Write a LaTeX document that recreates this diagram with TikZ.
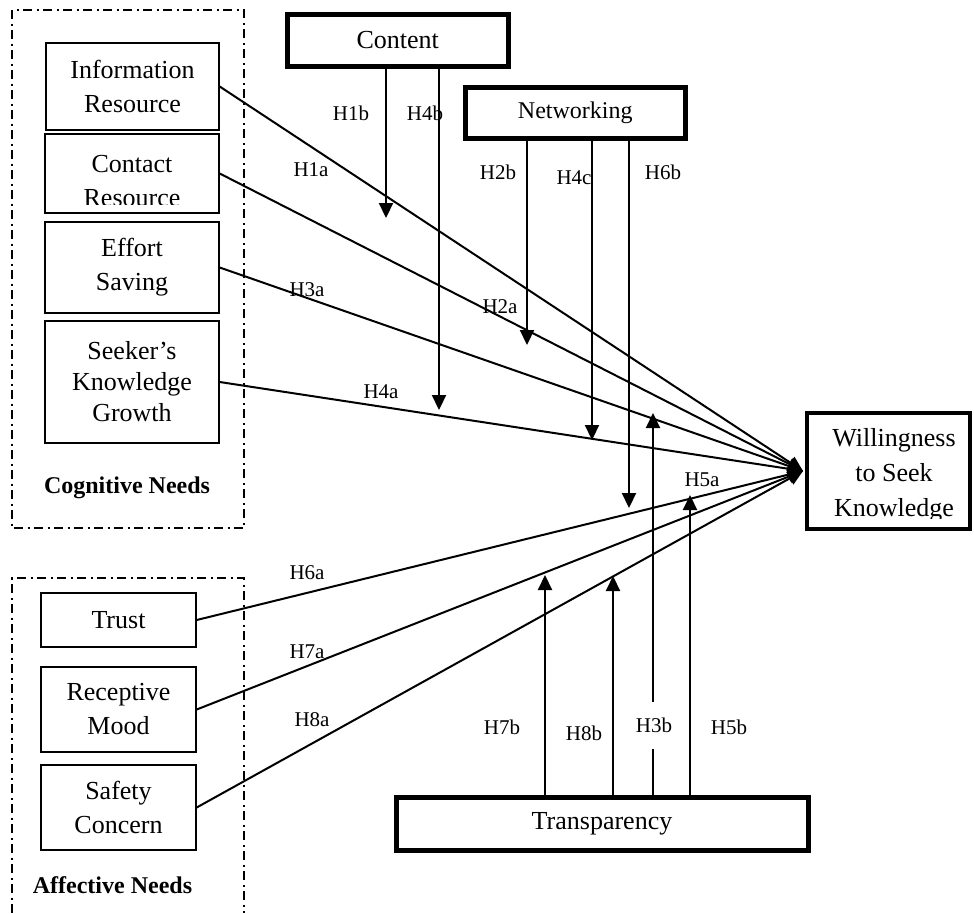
\documentclass[tikz,border=0pt]{standalone}
\usepackage{fontspec}
\setmainfont{Liberation Serif}
\usetikzlibrary{arrows.meta}
\begin{document}
\begin{tikzpicture}[x=1pt,y=-1pt,
 sbox/.style={draw, line width=1.4pt, inner sep=0pt, align=center, font=\fontsize{26}{34}\selectfont},
 tbox/.style={draw, line width=5pt, inner sep=0pt, align=center},
 txt/.style={inner sep=0pt, align=center, font=\fontsize{26}{34}\selectfont},
 lab/.style={inner sep=0pt, font=\fontsize{21}{25}\selectfont},
 con/.style={line width=2pt, -{Triangle[length=15pt,width=14pt]}},
 mod/.style={line width=2.2pt, -{Triangle[length=15pt,width=14pt]}},
 grp/.style={line width=1.3pt, dash pattern=on 9pt off 4.5pt on 2pt off 4.5pt},
 gtitle/.style={inner sep=0pt, anchor=base, font=\fontsize{24}{28}\selectfont\bfseries}
]
\useasboundingbox (0,0) rectangle (974,913);

% group frames
\draw[grp] (12,10) rectangle (244,528);
\draw[grp] (12,913) -- (12,578) -- (244,578) -- (244,913);
\node[gtitle] (cogn) at (127,493) {Cognitive Needs};
\node[gtitle] (affn) at (112.5,893) {Affective Needs};

% cognitive boxes
\node[sbox, minimum width=173pt, minimum height=87pt] (info) at (132.5,86.5) {Information\\Resource};
\node[sbox, minimum width=174pt, minimum height=79pt] (contact) at (132,173.5) {};
\begin{scope}
\clip (46,135) rectangle (218,204);
\node[txt] (contacttxt) at (132,181) {Contact\\Resource};
\end{scope}
\node[sbox, minimum width=174pt, minimum height=91pt] (effort) at (132,267.5) {Effort\\Saving};
\node[sbox, minimum width=174pt, minimum height=122pt, font=\fontsize{26}{31}\selectfont] (seeker) at (132,382) {Seeker’s\\Knowledge\\Growth};

% affective boxes
\node[sbox, minimum width=155pt, minimum height=54pt] (trust) at (118.5,620) {Trust};
\node[sbox, minimum width=155pt, minimum height=85pt] (recept) at (118.5,709.5) {Receptive\\Mood};
\node[sbox, minimum width=155pt, minimum height=85pt] (safety) at (118.5,807.5) {Safety\\Concern};

% moderators
\node[tbox, minimum width=220.5pt, minimum height=51.5pt, font=\fontsize{26}{30}\selectfont] (content) at (397.75,40.25) {Content};
\node[tbox, minimum width=219.5pt, minimum height=50.5pt, font=\fontsize{24}{28}\selectfont] (network) at (575.25,112.75) {Networking};
\node[tbox, minimum width=412pt, minimum height=52.5pt, font=\fontsize{26}{30}\selectfont] (transp) at (602,823.75) {Transparency};

% outcome
\node[draw, line width=4pt, inner sep=0pt, minimum width=163pt, minimum height=116pt] (will) at (888.5,471) {};
\begin{scope}
\clip (810,416) rectangle (967,518);
\node[txt, font=\fontsize{26}{35}\selectfont] (willtxt) at (894,475) {Willingness\\to Seek\\Knowledge};
\end{scope}

\coordinate (tgt) at (803,471);

% direct paths
\draw[con] (info.east) -- (tgt);
\draw[con] (contact.east) -- (tgt);
\draw[con] (effort.east) -- (tgt);
\draw[con] (seeker.east) -- (tgt);
\draw[con] (trust.east) -- (tgt);
\draw[con] (recept.east) -- (tgt);
\draw[con] (safety.east) -- (tgt);

% moderating arrow tips
\coordinate (t1b) at (386,218);
\coordinate (t4b) at (439,410);
\coordinate (t2b) at (527,345);
\coordinate (t4c) at (592,440);
\coordinate (t6b) at (629,508);
\coordinate (t7b) at (545,575);
\coordinate (t8b) at (613,576);
\coordinate (t3b) at (653,413);
\coordinate (t5b) at (690,495);

\draw[mod] (content.south -| t1b) -- (t1b);
\draw[mod] (content.south -| t4b) -- (t4b);
\draw[mod] (network.south -| t2b) -- (t2b);
\draw[mod] (network.south -| t4c) -- (t4c);
\draw[mod] (network.south -| t6b) -- (t6b);
\draw[mod] (transp.north -| t7b) -- (t7b);
\draw[mod] (transp.north -| t8b) -- (t8b);
\draw[mod] (transp.north -| t3b) -- (t3b);
\draw[mod] (transp.north -| t5b) -- (t5b);

% labels
\node[lab] (l1b) at (351,113) {H1b};
\node[lab] (l4b) at (425,113) {H4b};
\node[lab] (l1a) at (311,170) {H1a};
\node[lab] (l2b) at (498,172) {H2b};
\node[lab] (l4c) at (574,178) {H4c};
\node[lab] (l6b) at (663,172) {H6b};
\node[lab] (l2a) at (500,307) {H2a};
\node[lab] (l3a) at (307,290) {H3a};
\node[lab] (l4a) at (381,392) {H4a};
\node[lab] (l5a) at (702,480) {H5a};
\node[lab] (l6a) at (307,573) {H6a};
\node[lab] (l7a) at (307,652) {H7a};
\node[lab] (l8a) at (312,720) {H8a};
\node[lab] (l7b) at (502,727) {H7b};
\node[lab] (l8b) at (584,733) {H8b};
\node[lab, fill=white, minimum height=47pt, inner xsep=1pt] (l3b) at (654,725) {H3b};
\node[lab] (l5b) at (729,727) {H5b};
\end{tikzpicture}
\end{document}
